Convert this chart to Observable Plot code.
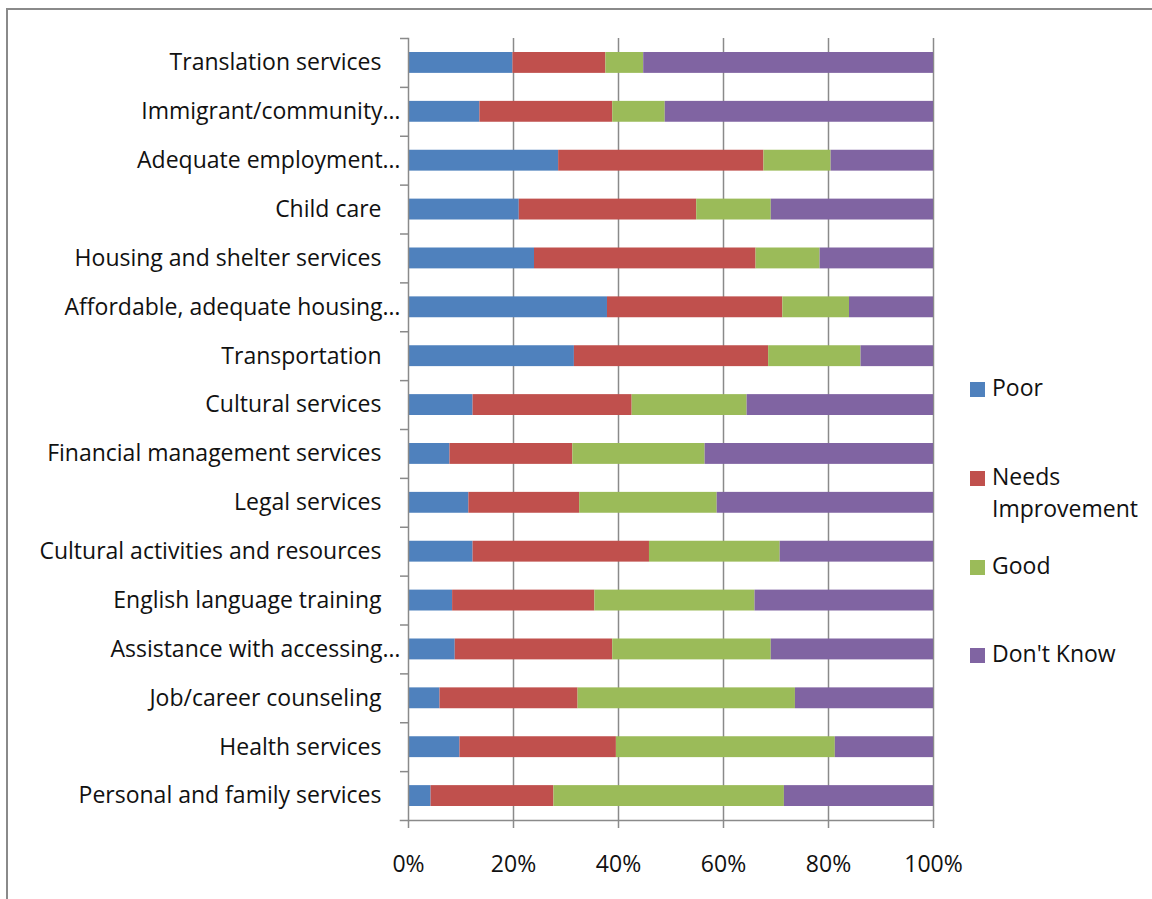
<!DOCTYPE html>
<html>
<head>
<meta charset="utf-8">
<script src="https://cdn.jsdelivr.net/npm/d3@7"></script>
<script src="https://cdn.jsdelivr.net/npm/@observablehq/plot@0.6"></script>
<style>
  html, body { margin: 0; padding: 0; background: #fff; }
  #wrap { position: relative; width: 1152px; height: 899px; overflow: hidden; font-family: "Open Sans", sans-serif; }
  #border { position: absolute; left: 6px; top: 8px; width: 1200px; height: 1000px; border: 2px solid #8a8a8a; box-sizing: border-box; }
  #chart { position: absolute; left: 0; top: 0; }
  #legend { position: absolute; left: 970px; top: 0; font-size: 23px; color: #111; }
  .item { position: absolute; left: 0; white-space: nowrap; line-height: 32px; }
  .sw { position: absolute; left: 0; top: 11px; width: 15px; height: 15px; }
  .lab { position: absolute; left: 22px; top: 0; }
</style>
</head>
<body>
<div id="wrap">
  <div id="border"></div>
  <div id="chart"></div>
  <div id="legend"></div>
</div>
<script>
const categories = [
  "Translation services", "Immigrant/community…", "Adequate employment…", "Child care",
  "Housing and shelter services", "Affordable, adequate housing…", "Transportation",
  "Cultural services", "Financial management services", "Legal services",
  "Cultural activities and resources", "English language training",
  "Assistance with accessing…", "Job/career counseling", "Health services",
  "Personal and family services"
];
const truncatedLabels = ["Immigrant/community…", "Adequate employment…", "Affordable, adequate housing…", "Assistance with accessing…"];
const series = ["Poor", "Needs Improvement", "Good", "Don't Know"];
const colors = ["#4F81BD", "#C0504D", "#9BBB59", "#8064A2"];
const poor      = [19.9, 13.6, 28.6, 21.1, 24.0, 37.9, 31.6, 12.3, 7.9, 11.5, 12.3, 8.4, 8.9, 6.0, 9.8, 4.3];
const needsImpr = [17.7, 25.3, 39.1, 33.8, 42.2, 33.4, 37.0, 30.3, 23.4, 21.1, 33.6, 27.1, 30.0, 26.3, 29.8, 23.4];
const good      = [7.2, 10.0, 12.8, 14.2, 12.2, 12.7, 17.6, 21.9, 25.2, 26.2, 24.9, 30.5, 30.2, 41.4, 41.7, 43.9];
const dontKnow  = [55.2, 51.1, 19.5, 30.9, 21.6, 16.0, 13.8, 35.5, 43.5, 41.2, 29.2, 34.0, 30.9, 26.3, 18.7, 28.4];
const xTicks = [0, 20, 40, 60, 80, 100];

const valueArrays = [poor, needsImpr, good, dontKnow];
const data = [];
categories.forEach((c, i) => {
  series.forEach((s, j) => data.push({category: c, rating: s, value: valueArrays[j][i]}));
});
const normalLabels = categories.filter(c => !truncatedLabels.includes(c));

const W = 1152, H = 899, mL = 408, mR = 219, mT = 38, mB = 79;
const step = (H - mT - mB) / categories.length;
const axisColor = "#8a8a8a";
const font = "Open Sans, sans-serif";
const textColor = "#111";

const chart = Plot.plot({
  width: W, height: H,
  marginLeft: mL, marginRight: mR, marginTop: mT, marginBottom: mB,
  style: {fontFamily: font, fontSize: "23px", color: textColor, background: "transparent"},
  x: {domain: [0, 100]},
  y: {domain: categories, padding: 0, round: false},
  color: {domain: series, range: colors},
  marks: [
    Plot.gridX(xTicks.slice(1), {stroke: axisColor, strokeOpacity: 1, strokeWidth: 1.5}),
    Plot.barX(data, Plot.stackX({y: "category", x: "value", fill: "rating", z: "rating", order: series, insetTop: 14, insetBottom: 14})),
    Plot.frame({anchor: "left", stroke: axisColor, strokeWidth: 1.5}),
    Plot.frame({anchor: "bottom", stroke: axisColor, strokeWidth: 1.5, insetLeft: -8}),
    Plot.axisY(categories, {tickSize: 8, text: null, label: null, stroke: axisColor, strokeWidth: 1.5, dy: -step / 2}),
    Plot.axisY(normalLabels, {tickSize: 0, tickPadding: 27, label: null, fontSize: 23, fill: textColor}),
    Plot.axisY(truncatedLabels, {tickSize: 0, tickPadding: 8, label: null, fontSize: 23, fill: textColor}),
    Plot.axisX(xTicks, {tickSize: 8, tickPadding: 27, label: null, stroke: axisColor, strokeWidth: 1.5, fill: textColor, fontSize: 23, tickFormat: d => d + "%"})
  ]
});
document.getElementById("chart").appendChild(chart);

const legendTops = [371, 460, 549, 637];
const legend = document.getElementById("legend");
series.forEach((s, j) => {
  const item = document.createElement("div");
  item.className = "item";
  item.style.top = legendTops[j] + "px";
  const sw = document.createElement("div");
  sw.className = "sw";
  sw.style.background = colors[j];
  const lab = document.createElement("div");
  lab.className = "lab";
  lab.innerHTML = s === "Needs Improvement" ? "Needs<br>Improvement" : s;
  item.appendChild(sw); item.appendChild(lab);
  legend.appendChild(item);
});
</script>
</body>
</html>
